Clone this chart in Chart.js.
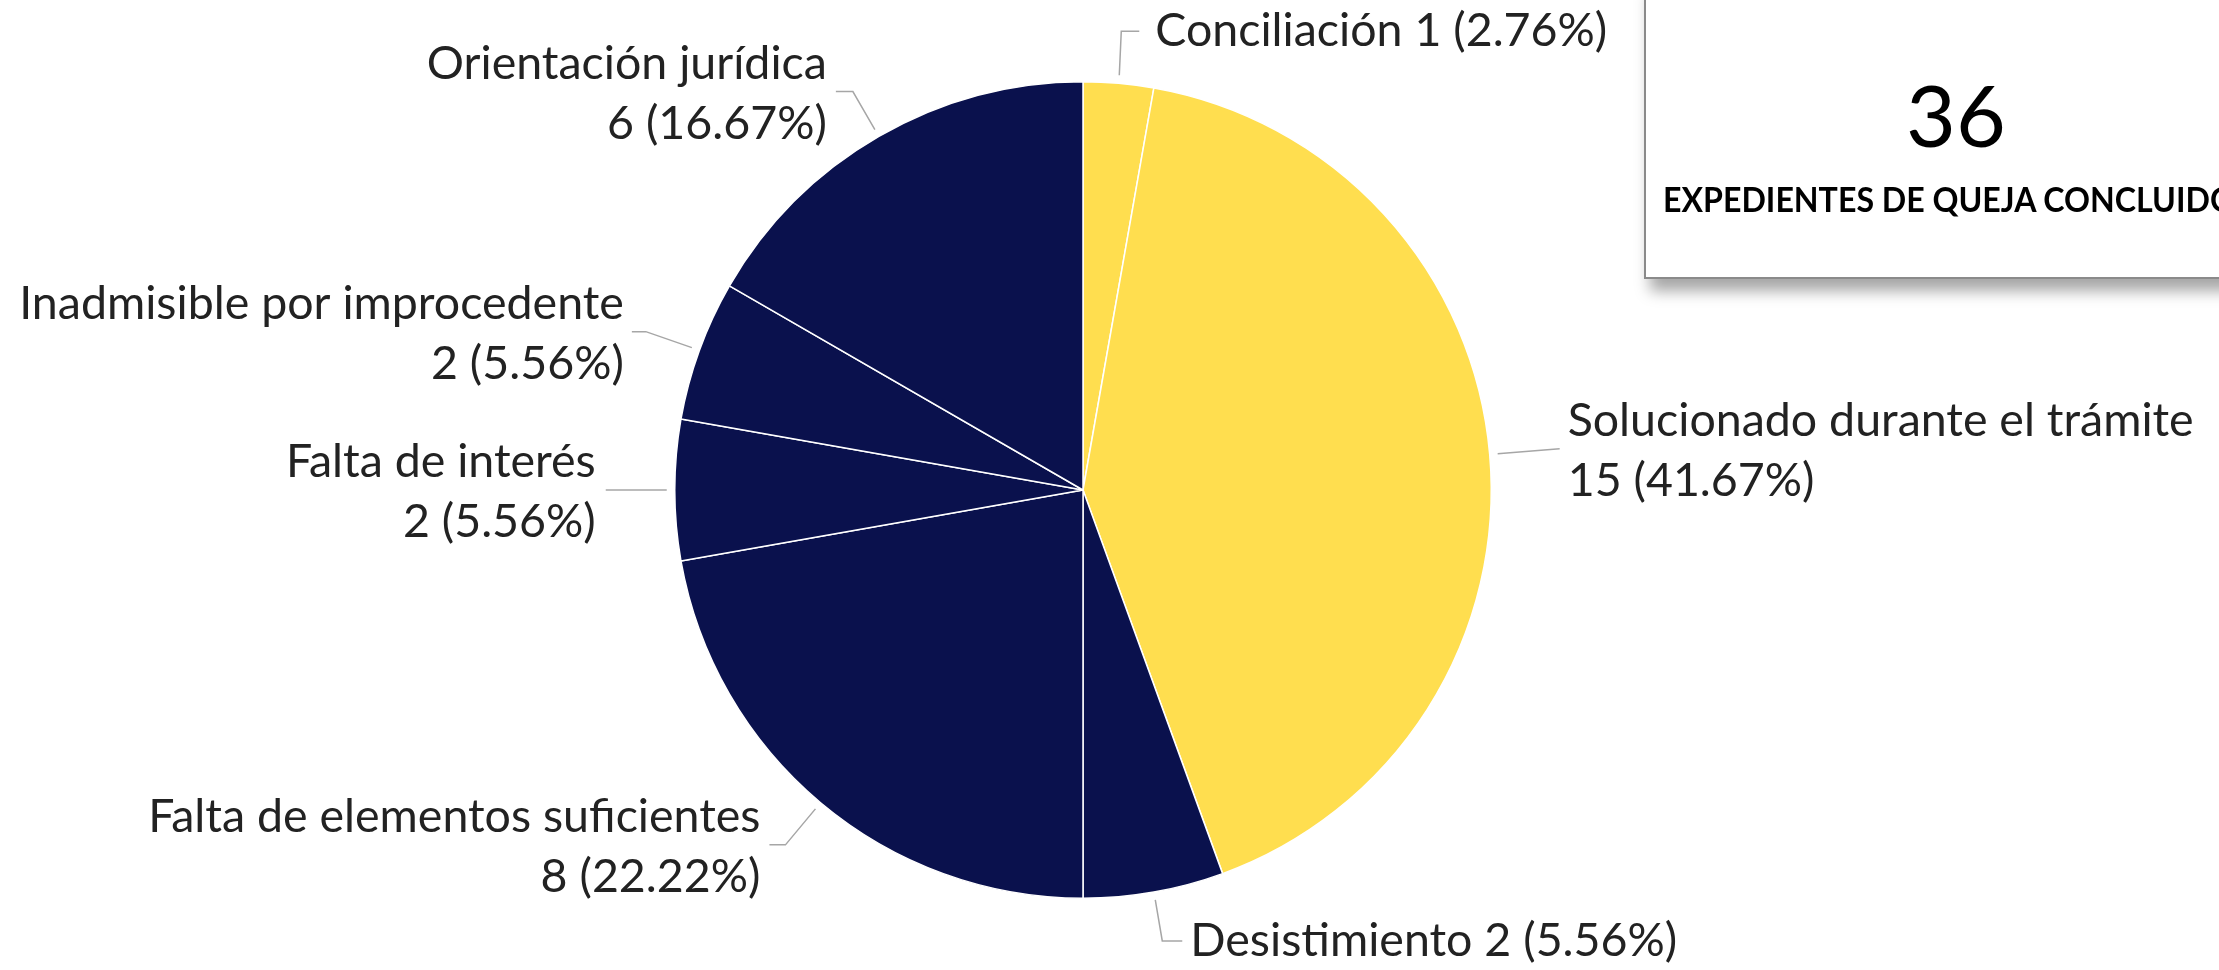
<!DOCTYPE html>
<html>
<head>
<meta charset="utf-8">
<script src="https://cdn.jsdelivr.net/npm/chart.js@4.4.1/dist/chart.umd.min.js"></script>
<style>
  html, body { margin: 0; padding: 0; background: #fff; overflow: hidden; }
  #wrap { position: relative; width: 2219px; height: 970px; }
  #pie { position: absolute; left: 0; top: 0; }
  #totalBox {
    position: absolute; left: 1644px; top: -20px; width: 620px; height: 295px;
    border: 2px solid #8a8a8a; background: #fff;
    box-shadow: 6px 12px 14px rgba(0,0,0,0.35);
    font-family: Lato, "Open Sans", sans-serif; color: #000;
  }
  #totalNum { position: absolute; left: 0; width: 100%; top: 82px; text-align: center; font-size: 86px; line-height: 100px; }
  #totalLbl { position: absolute; left: 0; width: 100%; top: 196px; text-align: center; font-size: 34px; font-weight: bold; white-space: nowrap; transform: scaleX(0.945); transform-origin: 50% 50%; }
</style>
</head>
<body>
<div id="wrap">
  <canvas id="pie" width="2219" height="970"></canvas>
  <div id="totalBox">
    <div id="totalNum"></div>
    <div id="totalLbl">EXPEDIENTES DE QUEJA CONCLUIDOS</div>
  </div>
</div>
<script>
// datos
var categorias = ["Conciliación", "Solucionado durante el trámite", "Desistimiento",
                  "Falta de elementos suficientes", "Falta de interés",
                  "Inadmisible por improcedente", "Orientación jurídica"];
var valores = [1, 15, 2, 8, 2, 2, 6];
var porcentajes = ["2.76", "41.67", "5.56", "22.22", "5.56", "5.56", "16.67"];
var colores = ["#FFDE4F", "#FFDE4F", "#0A114D", "#0A114D", "#0A114D", "#0A114D", "#0A114D"];
var totalTexto = "36";

// posicion de las etiquetas (linea guia relativa al punto medio del arco)
var layout = [
    { bend: [[2, -44], [18, 0]], side: "left",  oneLine: true,  gap: 16 },
    { bend: [[62, -5]],          side: "left",  oneLine: false, gap: 8 },
    { bend: [[7, 41], [20, 0]],  side: "left",  oneLine: true,  gap: 8 },
    { bend: [[-30, 36], [-16, 0]], side: "right", oneLine: false, gap: 9 },
    { bend: [[-61, 0]],          side: "right", oneLine: false, gap: 10 },
    { bend: [[-46, -16], [-14, 0]], side: "right", oneLine: false, gap: 8 },
    { bend: [[-22, -38], [-17, 0]], side: "right", oneLine: false, gap: 9 }
];

document.getElementById("totalNum").textContent = totalTexto;

var etiquetasPlugin = {
    id: "etiquetas",
    afterDatasetsDraw: function (chart) {
        var ctx = chart.ctx;
        var meta = chart.getDatasetMeta(0);
        ctx.save();
        meta.data.forEach(function (arc, i) {
            var cfg = layout[i];
            var a = (arc.startAngle + arc.endAngle) / 2;
            var r = arc.outerRadius + 8;
            var x = arc.x + r * Math.cos(a);
            var y = arc.y + r * Math.sin(a);
            ctx.strokeStyle = "#a6a6a6";
            ctx.lineWidth = 1.5;
            ctx.beginPath();
            ctx.moveTo(x, y);
            cfg.bend.forEach(function (d) {
                x += d[0];
                y += d[1];
                ctx.lineTo(x, y);
            });
            ctx.stroke();

            ctx.fillStyle = "#222222";
            ctx.font = "46.5px Lato";
            ctx.textBaseline = "alphabetic";
            var tx;
            if (cfg.side === "left") {
                ctx.textAlign = "left";
                tx = x + cfg.gap;
            } else {
                ctx.textAlign = "right";
                tx = x - cfg.gap;
            }
            var valTxt = valores[i] + " (" + porcentajes[i] + "%)";
            if (cfg.oneLine) {
                ctx.fillText(categorias[i] + " " + valTxt, tx, y + 15);
            } else {
                ctx.fillText(categorias[i], tx, y - 13);
                ctx.fillText(valTxt, tx, y + 47);
            }
        });
        ctx.restore();
    }
};

var ctx = document.getElementById("pie").getContext("2d");
var chart = new Chart(ctx, {
    type: "pie",
    data: {
        labels: categorias,
        datasets: [
            {
                data: valores,
                backgroundColor: colores,
                borderColor: "#ffffff",
                borderWidth: 1.5
            }
        ]
    },
    options: {
        responsive: false,
        animation: false,
        layout: { padding: { left: 674, right: 727, top: 81, bottom: 71 } },
        plugins: {
            legend: { display: false },
            tooltip: { enabled: false }
        }
    },
    plugins: [etiquetasPlugin]
});
</script>
</body>
</html>
